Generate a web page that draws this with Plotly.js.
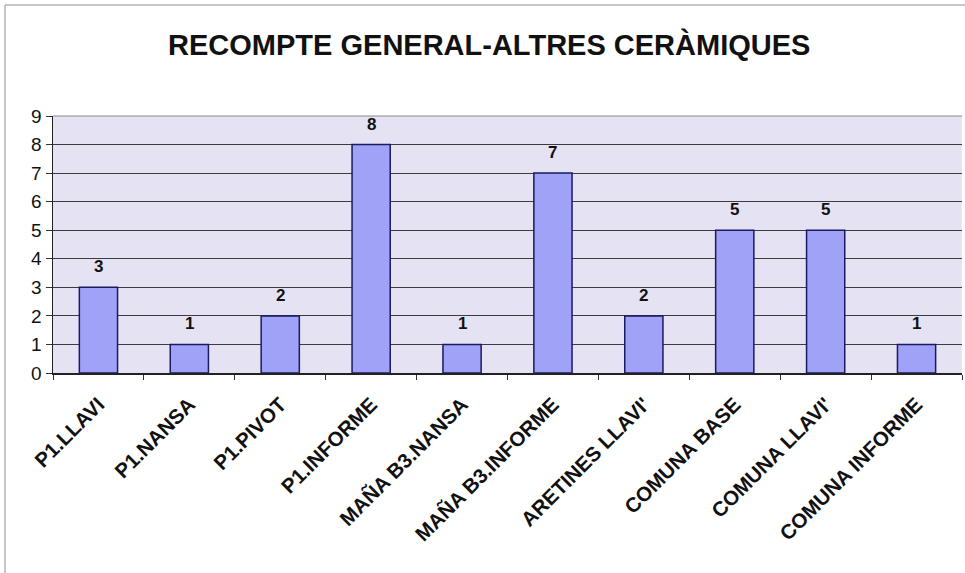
<!DOCTYPE html>
<html>
<head>
<meta charset="utf-8">
<script src="https://cdn.plot.ly/plotly-3.0.1.min.js"></script>
<style>html,body{margin:0;padding:0;background:#fff;}#chart{width:965px;height:573px;}</style>
</head>
<body>
<div id="chart"></div>
<script>
const categories = ["P1.LLAVI", "P1.NANSA", "P1.PIVOT", "P1.INFORME", "MAÑA B3.NANSA", "MAÑA B3.INFORME", "ARETINES LLAVI'", "COMUNA BASE", "COMUNA LLAVI'", "COMUNA INFORME"];
const counts = [3, 1, 2, 8, 1, 7, 2, 5, 5, 1];
const yTicks = [0, 1, 2, 3, 4, 5, 6, 7, 8, 9];

const fontFam = "Liberation Sans, Arial, sans-serif";

const trace = {
  type: "bar",
  x: categories,
  y: counts,
  marker: { color: "#9FA2F6", line: { color: "#1a1a60", width: 1.5 } },
  width: 0.42,
  hoverinfo: "x+y"
};

const labels = categories.map((c, i) => ({
  x: c, y: counts[i], xref: "x", yref: "y",
  text: String(counts[i]), showarrow: false,
  yanchor: "bottom", yshift: 9,
  font: { family: fontFam, size: 17, color: "#111", weight: "bold" }
}));

const layout = {
  width: 965, height: 573,
  margin: { l: 53, r: 3, t: 116, b: 200 },
  paper_bgcolor: "#ffffff",
  plot_bgcolor: "#E5E3F3",
  title: {
    text: "RECOMPTE GENERAL-ALTRES CERÀMIQUES",
    font: { family: fontFam, size: 29, color: "#111", weight: "bold" },
    x: 0.507, xref: "container", xanchor: "center",
    y: 1 - 45 / 573, yref: "container", yanchor: "middle"
  },
  showlegend: false,
  xaxis: {
    type: "category",
    tickangle: -45,
    ticks: "outside", ticklen: 5, tickcolor: "#333", tickson: "boundaries",
    ticklabelstandoff: 10,
    showline: true, linecolor: "#222", linewidth: 1.5,
    showgrid: false,
    tickfont: { family: fontFam, size: 20.5, color: "#111", weight: "bold" }
  },
  yaxis: {
    range: [0, 9],
    tickvals: yTicks,
    ticktext: yTicks.map(String),
    ticks: "outside", ticklen: 6, tickcolor: "#333",
    showline: true, linecolor: "#222", linewidth: 1.5,
    showgrid: true, gridcolor: "#3c3c3c", gridwidth: 1,
    zeroline: false,
    tickfont: { family: fontFam, size: 19, color: "#111" }
  },
  annotations: labels,
  shapes: [
    { type: "line", xref: "paper", yref: "paper", x0: 0, x1: 1, y0: 1, y1: 1, line: { color: "#8a8a8a", width: 1 } },
    { type: "line", xref: "paper", yref: "paper", x0: -48/909, x1: -48/909, y0: -1.0, y1: 111/257 + 1, line: { color: "#b5b5b5", width: 1.5 } },
    { type: "line", xref: "paper", yref: "paper", x0: -48/909, x1: 1.01, y0: 111/257 + 1, y1: 111/257 + 1, line: { color: "#b5b5b5", width: 1.5 } }
  ]
};

Plotly.newPlot("chart", [trace], layout, { displayModeBar: false, staticPlot: true });
</script>
</body>
</html>
